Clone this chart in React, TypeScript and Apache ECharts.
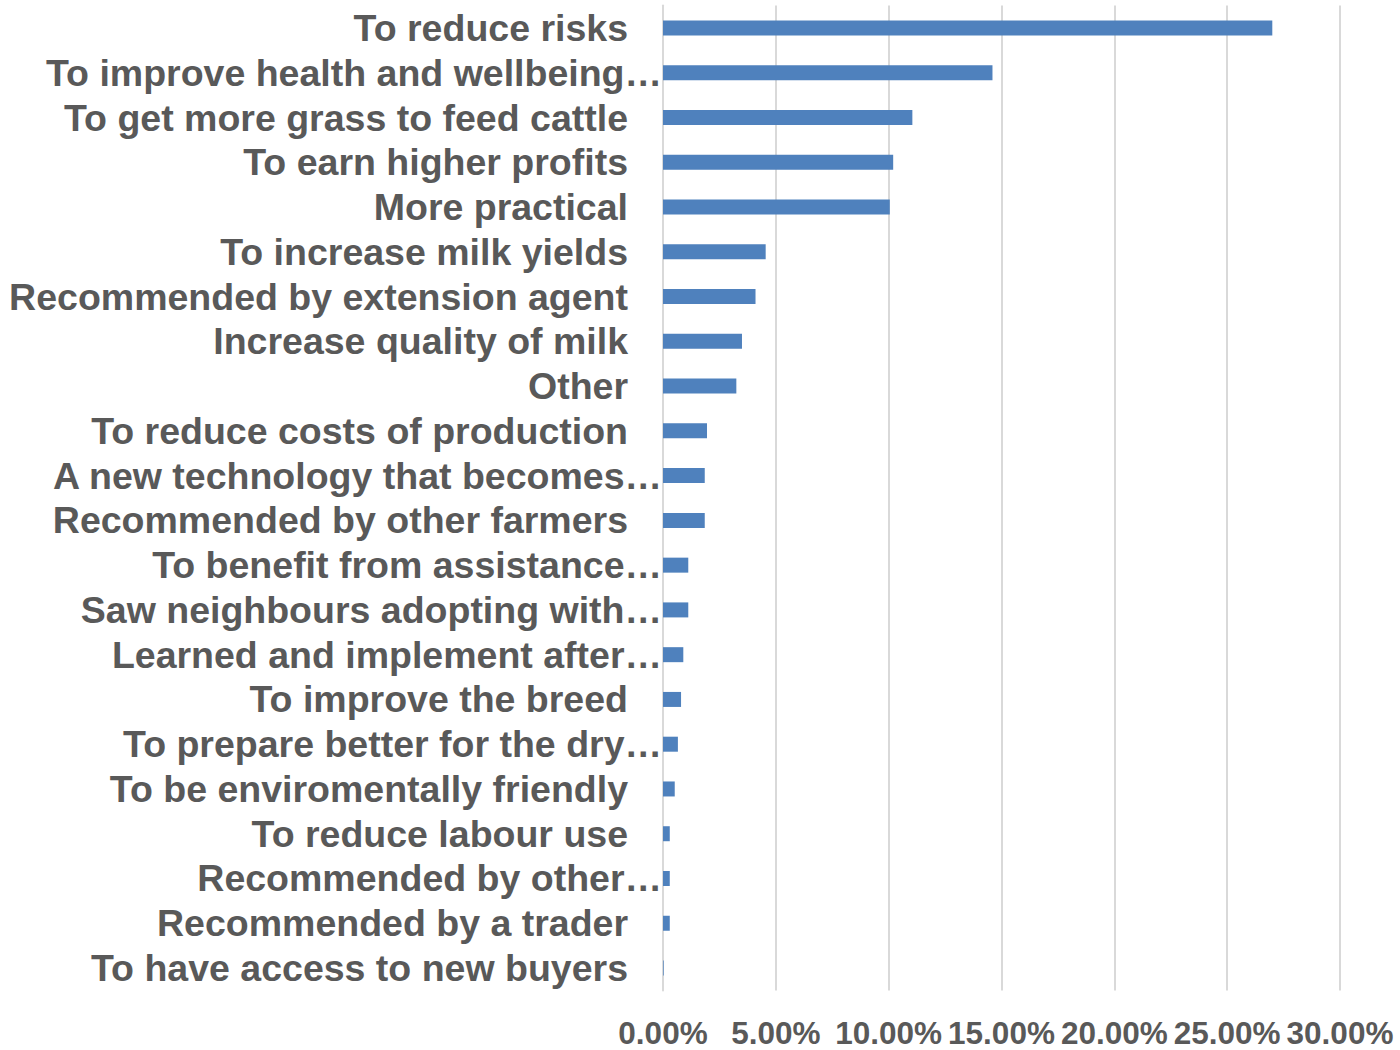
import React, { useEffect, useRef } from "react";
import * as echarts from "echarts";

const categories = [
  "To reduce risks",
  "To improve health and wellbeing…",
  "To get more grass to feed cattle",
  "To earn higher profits",
  "More practical",
  "To increase milk yields",
  "Recommended by extension agent",
  "Increase quality of milk",
  "Other",
  "To reduce costs of production",
  "A new technology that becomes…",
  "Recommended by other farmers",
  "To benefit from assistance…",
  "Saw neighbours adopting with…",
  "Learned and implement after…",
  "To improve the breed",
  "To prepare better for the dry…",
  "To be enviromentally friendly",
  "To reduce labour use",
  "Recommended by other…",
  "Recommended by a trader",
  "To have access to new buyers",
];

const values = [
  27.0, 14.6, 11.05, 10.2, 10.05, 4.55, 4.1, 3.5, 3.25, 1.95, 1.85, 1.85, 1.12,
  1.12, 0.9, 0.8, 0.66, 0.52, 0.3, 0.3, 0.3, 0.03,
];

const xTicks = [0, 5, 10, 15, 20, 25, 30];

export default function App() {
  const ref = useRef<HTMLDivElement>(null);
  useEffect(() => {
    if (!ref.current) return;
    const chart = echarts.init(ref.current, undefined, { renderer: "svg" });
    const font = "'Liberation Sans', Arial, sans-serif";
    const fs = 37.5;
    chart.setOption({
      animation: false,
      backgroundColor: "#ffffff",
      grid: { left: 663, right: 60, top: 5.6, bottom: 59.6, containLabel: false },
      xAxis: {
        type: "value",
        min: xTicks[0],
        max: xTicks[xTicks.length - 1],
        interval: 5,
        axisLine: { show: false },
        axisTick: { show: false },
        splitLine: { show: true, lineStyle: { color: "#d9d9d9", width: 2 } },
        axisLabel: {
          margin: 28,
          fontFamily: font,
          fontWeight: "bold",
          fontSize: 31.5,
          lineHeight: 30,
          color: "#595959",
          formatter: (v: number) => v.toFixed(2) + "%",
        },
      },
      yAxis: {
        type: "category",
        inverse: true,
        data: categories,
        axisTick: { show: false },
        axisLine: { show: true, lineStyle: { color: "#d9d9d9", width: 2 } },
        axisLabel: {
          interval: 0,
          margin: 1,
          fontFamily: font,
          fontWeight: "bold",
          fontSize: fs,
          color: "#595959",
          formatter: (v: string) =>
            v.endsWith("…") ? `{t|${v}}` : `{p|${v}}`,
          rich: {
            t: {
              fontFamily: font,
              fontWeight: "bold",
              fontSize: fs,
              color: "#595959",
            },
            p: {
              fontFamily: font,
              fontWeight: "bold",
              fontSize: fs,
              color: "#595959",
              padding: [0, 34, 0, 0],
            },
          },
        },
      },
      series: [
        {
          type: "bar",
          data: values,
          barWidth: 15,
          itemStyle: { color: "#4F81BD" },
        },
      ],
    });
    return () => chart.dispose();
  }, []);
  return (
    <div
      ref={ref}
      style={{ position: "fixed", left: 0, top: 0, width: 1400, height: 1050 }}
    />
  );
}
